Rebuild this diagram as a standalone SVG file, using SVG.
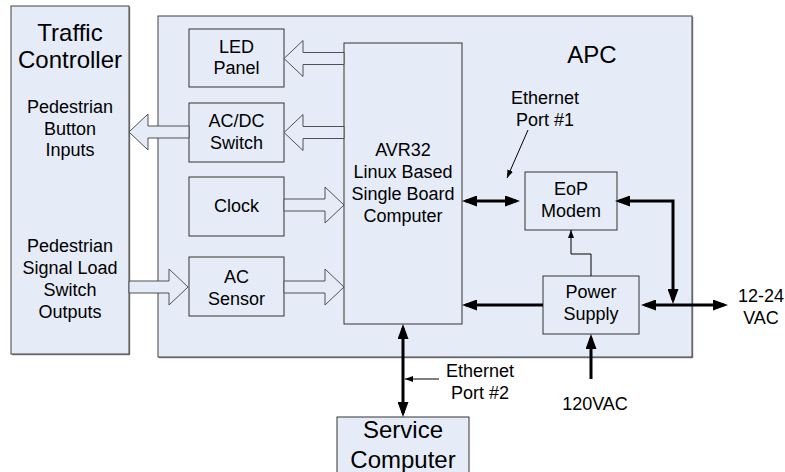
<svg xmlns="http://www.w3.org/2000/svg" width="785" height="472" viewBox="0 0 785 472">
<style>
text{font-family:"Liberation Sans",Arial,sans-serif;fill:#000;text-anchor:middle}
.t18{font-size:18px}
.t24{font-size:24px}
.cont{fill:#E6ECF7;stroke:#404040;stroke-width:1}
.shadow{fill:none;stroke:#8c8c8c;stroke-width:1.5}
.box{fill:#E6ECF7;stroke:#333;stroke-width:1}
.barrow{fill:#E6ECF7;stroke:#505050;stroke-width:1}
.thick{fill:none;stroke:#000;stroke-width:3}
.thin{fill:none;stroke:#000;stroke-width:1}
</style>
<defs>
<marker id="ah" viewBox="0 0 15 11" refX="11" refY="5.5" markerWidth="15" markerHeight="11" markerUnits="userSpaceOnUse" orient="auto-start-reverse"><path d="M0,0 L15,5.5 L0,11 z" fill="#000"/></marker>
<marker id="sa" viewBox="0 0 8 6" refX="8" refY="3" markerWidth="8" markerHeight="6" markerUnits="userSpaceOnUse" orient="auto"><path d="M0,0 L8,3 L0,6 z" fill="#000"/></marker>
</defs>
<rect x="0" y="0" width="785" height="472" fill="#fff"/>

<g id="traffic-controller">
<path class="shadow" d="M129.5,7 V354.5 H12"/>
<rect class="cont" x="11" y="6" width="118" height="348"/>
<text class="t24" x="70" y="41">Traffic</text>
<text class="t24" x="70" y="68">Controller</text>
<text class="t18" x="70" y="113">Pedestrian</text>
<text class="t18" x="70" y="135">Button</text>
<text class="t18" x="70" y="156">Inputs</text>
<text class="t18" x="70" y="252">Pedestrian</text>
<text class="t18" x="70" y="274">Signal Load</text>
<text class="t18" x="70" y="296">Switch</text>
<text class="t18" x="70" y="318">Outputs</text>
</g>

<g id="apc">
<path class="shadow" d="M692.5,17 V357.5 H159"/>
<rect class="cont" x="158" y="16" width="534" height="341"/>
<text class="t24" x="592" y="63">APC</text>
</g>

<g id="led-panel">
<rect class="box" x="189" y="29" width="95" height="58"/>
<text class="t18" x="236.5" y="53">LED</text>
<text class="t18" x="236.5" y="74">Panel</text>
</g>

<g id="acdc-switch">
<rect class="box" x="189" y="103" width="95" height="59"/>
<text class="t18" x="236.5" y="127">AC/DC</text>
<text class="t18" x="236.5" y="149">Switch</text>
</g>

<g id="clock">
<rect class="box" x="189" y="177" width="95" height="59"/>
<text class="t18" x="236.5" y="212">Clock</text>
</g>

<g id="ac-sensor">
<rect class="box" x="189" y="257" width="95" height="59"/>
<text class="t18" x="236.5" y="283">AC</text>
<text class="t18" x="236.5" y="305">Sensor</text>
</g>

<g id="avr32">
<rect class="box" x="344" y="43" width="118" height="281"/>
<text class="t18" x="403" y="156">AVR32</text>
<text class="t18" x="403" y="178">Linux Based</text>
<text class="t18" x="403" y="200">Single Board</text>
<text class="t18" x="403" y="222">Computer</text>
</g>

<g id="eop-modem">
<rect class="box" x="525" y="172" width="92" height="58"/>
<text class="t18" x="571" y="195">EoP</text>
<text class="t18" x="571" y="217">Modem</text>
</g>

<g id="power-supply">
<rect class="box" x="543" y="276" width="96" height="58"/>
<text class="t18" x="591" y="298">Power</text>
<text class="t18" x="591" y="320">Supply</text>
</g>

<g id="service-computer">
<rect class="box" x="337" y="417" width="132" height="70"/>
<text class="t24" x="403" y="438">Service</text>
<text class="t24" x="403" y="468">Computer</text>
</g>

<g id="labels">
<text class="t18" x="545" y="104">Ethernet</text>
<text class="t18" x="545" y="126">Port #1</text>
<text class="t18" x="480" y="377">Ethernet</text>
<text class="t18" x="480" y="399">Port #2</text>
<text class="t18" x="595" y="410">120VAC</text>
<text class="t18" x="761" y="302">12-24</text>
<text class="t18" x="761" y="324">VAC</text>
</g>

<g id="connectors">
<polygon class="barrow" points="344,52.5 303,52.5 303,40.5 284,58.5 303,76.5 303,64.5 344,64.5"/>
<polygon class="barrow" points="344,126.5 303,126.5 303,114.5 284,132.5 303,150.5 303,138.5 344,138.5"/>
<polygon class="barrow" points="189,126 148,126 148,114 129,132 148,150 148,138 189,138"/>
<polygon class="barrow" points="284,199 325,199 325,187 344,205 325,223 325,211 284,211"/>
<polygon class="barrow" points="129,281 169,281 169,269 188,287 169,305 169,293 129,293"/>
<polygon class="barrow" points="284,281 325,281 325,269 344,287 325,305 325,293 284,293"/>

<path class="thick" d="M466,201 H516" marker-start="url(#ah)" marker-end="url(#ah)"/>
<path class="thick" d="M619,201 H673 V300" marker-start="url(#ah)" marker-end="url(#ah)"/>
<path class="thick" d="M645,305 H724" marker-start="url(#ah)" marker-end="url(#ah)"/>
<path class="thick" d="M543,305 H466" marker-end="url(#ah)"/>
<path class="thick" d="M591,379 V338" marker-end="url(#ah)"/>
<path class="thick" d="M403,328 V413" marker-start="url(#ah)" marker-end="url(#ah)"/>
<path class="thin" d="M591,276 V254 H571 V230" marker-end="url(#sa)"/>
<path class="thin" d="M528,130 L507,178" marker-end="url(#sa)"/>
<path class="thin" d="M439,379 H405" marker-end="url(#sa)"/>
</g>
</svg>
